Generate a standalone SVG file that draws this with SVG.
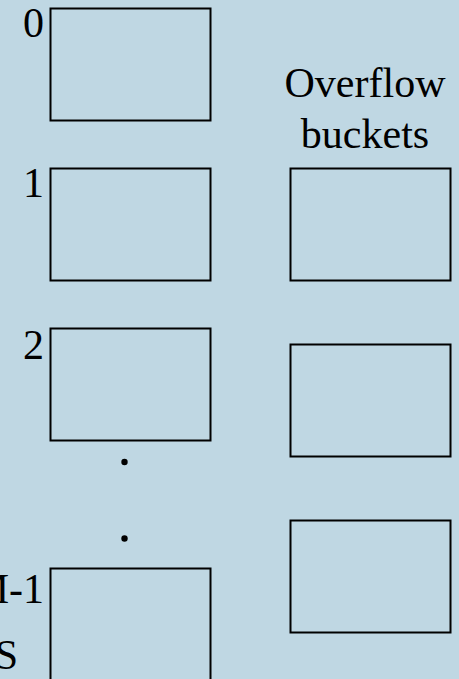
<svg xmlns="http://www.w3.org/2000/svg" width="459" height="679" viewBox="0 0 459 679">
<style>
.box{fill:none;stroke:#000;stroke-width:2}
.t{font-family:"Liberation Serif","Times New Roman",serif;font-size:42px;fill:#000}
.e{text-anchor:end}
.m{text-anchor:middle}
</style>
<rect width="459" height="679" fill="#BFD7E3"/>
<g id="bucket0"><rect class="box" x="50.5" y="8.5" width="160" height="112"/><text class="t e" x="44" y="37">0</text></g>
<g id="bucket1"><rect class="box" x="50.5" y="168.5" width="160" height="112"/><text class="t e" x="44" y="197">1</text></g>
<g id="bucket2"><rect class="box" x="50.5" y="328.5" width="160" height="112"/><text class="t e" x="44" y="359">2</text></g>
<g id="bucketM1"><rect class="box" x="50.5" y="568.5" width="160" height="112"/><text class="t e" x="44" y="603">M-1</text><text class="t e" x="18" y="669">S</text></g>
<g id="dots"><circle cx="124.5" cy="462" r="3.2"/><circle cx="124.5" cy="538.5" r="3.2"/></g>
<g id="overflow-label"><text class="t m" x="365" y="97">Overflow</text><text class="t m" x="365" y="148">buckets</text></g>
<g id="overflow1"><rect class="box" x="290.5" y="168.5" width="160" height="112"/></g>
<g id="overflow2"><rect class="box" x="290.5" y="344.5" width="160" height="112"/></g>
<g id="overflow3"><rect class="box" x="290.5" y="520.5" width="160" height="112"/></g>
<g id="connectors"></g>
</svg>
